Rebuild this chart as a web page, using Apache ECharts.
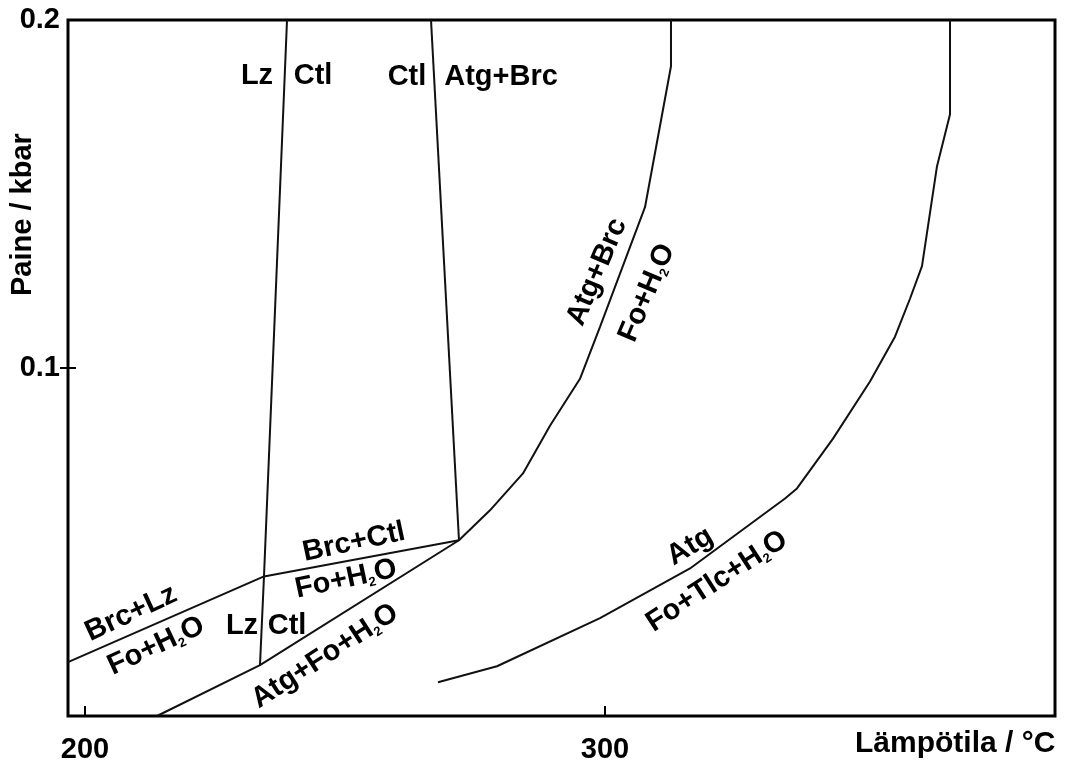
<!DOCTYPE html>
<html>
<head>
<meta charset="utf-8">
<script src="https://cdn.jsdelivr.net/npm/echarts@6/dist/echarts.min.js"></script>
<style>
html,body{margin:0;padding:0;background:#fff;}
#chart{width:1065px;height:764px;}
</style>
</head>
<body>
<div id="chart"></div>
<script>
// ---- Axis ticks ----
const tempTicks = [200, 300];
const presTicks = [0.1, 0.2];
const presTickMarks = [0.1];
const tempRange = [196.73, 386.54];
const presRange = [0, 0.2];

// ---- Reaction boundaries (T in °C, P in kbar) ----
// Lz / Ctl
const lzCtlT = [233.65, 234.42, 238.85];
const lzCtlP = [0.0146, 0.0401, 0.2];
// Ctl / Atg+Brc
const ctlAtgT = [271.92, 266.54];
const ctlAtgP = [0.0505, 0.2];
// Brc+Lz -> Fo+H2O and Brc+Ctl -> Fo+H2O
const brcT = [196.73, 234.42, 271.92];
const brcP = [0.0155, 0.0401, 0.0505];
// Atg+Fo+H2O and Atg+Brc / Fo+H2O
const atgBrcT = [213.85, 233.65, 271.92, 277.88, 284.23, 289.42, 295.19, 299.04, 307.69, 312.69, 312.69];
const atgBrcP = [0.0, 0.0146, 0.0505, 0.0591, 0.0697, 0.0834, 0.0969, 0.1118, 0.1462, 0.1867, 0.2];
// Atg / Fo+Tlc+H2O
const atgTlcT = [267.88, 279.23, 299.04, 316.35, 334.62, 336.92, 343.85, 350.96, 355.77, 358.65, 360.96, 363.85, 366.35, 366.35];
const atgTlcP = [0.0097, 0.0143, 0.0281, 0.0424, 0.0625, 0.0654, 0.0797, 0.0961, 0.1090, 0.1199, 0.1293, 0.1580, 0.1729, 0.2];

// ---- Field labels ----
const labelTexts = ['Lz', 'Ctl', 'Ctl', 'Atg+Brc', 'Atg+Brc', 'Fo+H2O', 'Brc+Ctl', 'Fo+H2O',
  'Brc+Lz', 'Fo+H2O', 'Lz', 'Ctl', 'Atg+Fo+H2O', 'Atg', 'Fo+Tlc+H2O'];
const labelT = [233.08, 243.85, 261.92, 280.0, 298.46, 308.08, 251.73, 250.19,
  208.85, 213.65, 230.19, 238.85, 246.15, 316.35, 321.54];
const labelP = [0.1838, 0.1838, 0.1835, 0.1835, 0.1276, 0.1216, 0.0499, 0.0393,
  0.0295, 0.0201, 0.0258, 0.0258, 0.0172, 0.0487, 0.0387];
const labelAngle = [0, 0, 0, 0, 67, 67, 12, 12, 25, 25, 0, 0, 33, 31, 33];

const FONT = '"Liberation Sans", Arial, Helvetica, sans-serif';
const INK = '#000';

function zip(a, b) { return a.map((v, i) => [v, b[i]]); }
function richText(s) {
  if (s.indexOf('H2O') < 0) return '{a|' + s + '}';
  const parts = s.split('H2O');
  return '{a|' + parts[0] + 'H}{s|2}{a|O' + parts[1] + '}';
}

const lineStyle = { color: '#111', width: 2 };
function boundary(name, T, P) {
  return {
    name: name, type: 'line', data: zip(T, P), showSymbol: false, symbol: 'none',
    lineStyle: lineStyle, silent: true, animation: false, z: 3
  };
}

const labelData = labelTexts.map((t, i) => ({
  value: [labelT[i], labelP[i]],
  label: { formatter: richText(t), rotate: labelAngle[i] }
}));

const chart = echarts.init(document.getElementById('chart'));
chart.setOption({
  animation: false,
  backgroundColor: '#fff',
  grid: { left: 68, right: 10, top: 20, bottom: 46, show: true, borderColor: INK, borderWidth: 3, backgroundColor: 'transparent' },
  xAxis: {
    type: 'value', min: tempRange[0], max: tempRange[1],
    axisLine: { show: false },
    splitLine: { show: false },
    axisTick: { show: true, inside: true, length: 10, lineStyle: { color: INK, width: 2 }, customValues: tempTicks },
    axisLabel: { show: true, customValues: tempTicks, margin: 19, color: INK, fontFamily: FONT, fontWeight: 'bold', fontSize: 29 }
  },
  yAxis: {
    type: 'value', min: presRange[0], max: presRange[1], offset: -8,
    axisLine: { show: false },
    splitLine: { show: false },
    axisTick: { show: true, inside: false, length: 16, lineStyle: { color: INK, width: 2 }, customValues: presTickMarks },
    axisLabel: { show: true, customValues: presTicks, margin: 16, color: INK, fontFamily: FONT, fontWeight: 'bold', fontSize: 29 }
  },
  graphic: [
    { type: 'text', left: 855, top: 729, style: { text: 'Lämpötila / °C', font: 'bold 30px ' + FONT, fill: INK } },
    { type: 'text', x: 8, y: 296, rotation: Math.PI / 2, style: { text: 'Paine / kbar', font: 'bold 29px ' + FONT, fill: INK, textAlign: 'left', textVerticalAlign: 'top' } }
  ],
  series: [
    boundary('Lz/Ctl', lzCtlT, lzCtlP),
    boundary('Ctl/Atg+Brc', ctlAtgT, ctlAtgP),
    boundary('Brc', brcT, brcP),
    boundary('Atg+Brc', atgBrcT, atgBrcP),
    boundary('Atg/Tlc', atgTlcT, atgTlcP),
    {
      name: 'labels', type: 'scatter', symbolSize: 0, data: labelData, silent: true, z: 5,
      itemStyle: { opacity: 1 },
      label: {
        show: true, position: 'inside', color: INK, opacity: 1,
        rich: {
          a: { fontFamily: FONT, fontWeight: 'bold', fontSize: 29, lineHeight: 30, color: INK },
          s: { fontFamily: FONT, fontWeight: 'bold', fontSize: 13, lineHeight: 13, verticalAlign: 'bottom', color: INK }
        }
      }
    }
  ]
});
</script>
</body>
</html>
